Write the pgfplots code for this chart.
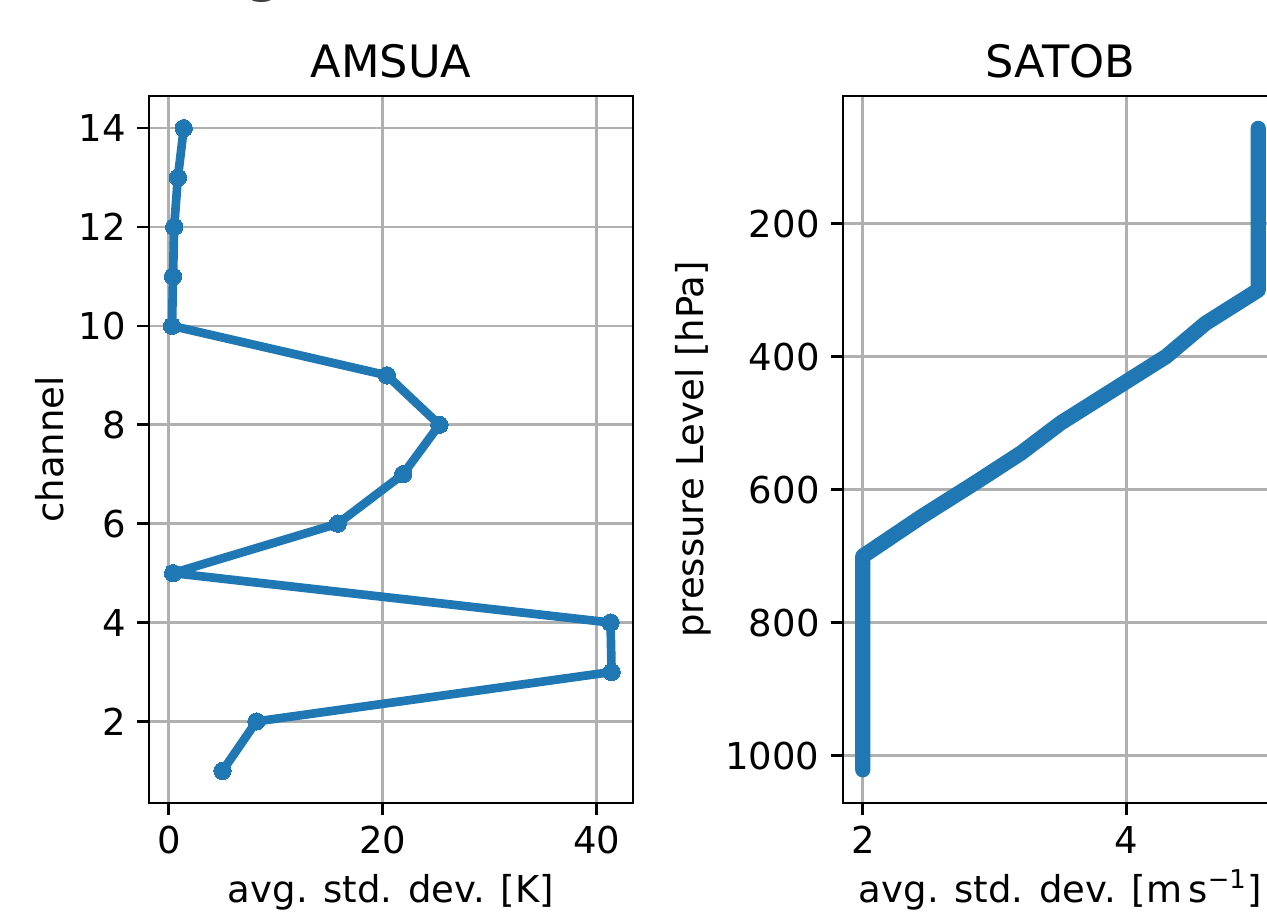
\documentclass[border=0pt]{standalone}
\usepackage{fontspec}
\setmainfont{DejaVu Sans}
\usepackage{pgfplots}
\pgfplotsset{compat=1.18}
\definecolor{mplblue}{HTML}{1F77B4}
\definecolor{gridgray}{HTML}{B0B0B0}
\pgfplotsset{mystyle/.style={
  scale only axis,
  axis line style={black, line width=0.8pt},
  grid=major,
  grid style={color=gridgray, line width=0.8pt},
  tick align=outside,
  major tick length=3.5pt,
  tick style={black, line width=0.8pt},
  xtick pos=bottom, ytick pos=left,
  tick label style={font=\fontsize{11.1}{13}\selectfont},
  label style={font=\fontsize{11.1}{13}\selectfont},
  xlabel style={text height=0.76em, text depth=0.24em},
  ylabel shift=-2.5pt,
  title style={font=\fontsize{13.4}{15}\selectfont, yshift=-4.2pt},
  /pgf/number format/assume math mode=true,
  /pgf/number format/1000 sep={},
}}
\begin{document}
\begin{tikzpicture}[x=1pt,y=1pt]
\useasboundingbox (0,0) rectangle (380.1,273.6);
\clip (0,0) rectangle (380.1,273.6);
\node[anchor=base west, inner sep=0pt, text=black!75, font=\bfseries\fontsize{14}{16}\selectfont] at (26.2,275.7) {Settings (all data)};
\begin{axis}[mystyle,
  at={(44.7pt,32.7pt)}, anchor=south west,
  width=145.2pt, height=212.1pt,
  xmin=-1.85, xmax=43.4, ymin=0.35, ymax=14.65,
  xtick={0,20,40}, ytick={2,4,...,14},
  title={AMSUA},
  xlabel={avg. std. dev. [K]},
  ylabel={channel},
]
\addplot[color=mplblue, line width=2.6pt, line join=round, mark=*, mark size=2.6pt, mark options={solid, fill=mplblue, draw=mplblue, line width=0pt}] coordinates {
(5.02,1) (8.2,2) (41.4,3) (41.3,4) (0.4,5) (15.8,6) (21.9,7) (25.3,8) (20.4,9) (0.3,10) (0.4,11) (0.5,12) (0.85,13) (1.4,14)
};
\end{axis}
\begin{axis}[mystyle,
  at={(252.9pt,32.7pt)}, anchor=south west,
  width=130.5pt, height=212.1pt,
  xmin=1.85, xmax=5.15, ymin=8.3, ymax=1071,
  y dir=reverse,
  xtick={2,4}, ytick={200,400,...,1000},
  title={SATOB},
  xlabel={avg. std. dev. [m\,s\textsuperscript{−1}]},
  ylabel={pressure Level [hPa]},
]
\addplot[color=mplblue, line width=4.6pt, line cap=round, line join=round] coordinates {
(2,1021) (2,900) (2,800) (2,700) (2.45,640) (2.85,590) (3.2,545) (3.5,500) (3.9,450) (4.3,400) (4.6,350) (5,300) (5,200) (5,100) (5,57)
};
\end{axis}
\end{tikzpicture}
\end{document}
